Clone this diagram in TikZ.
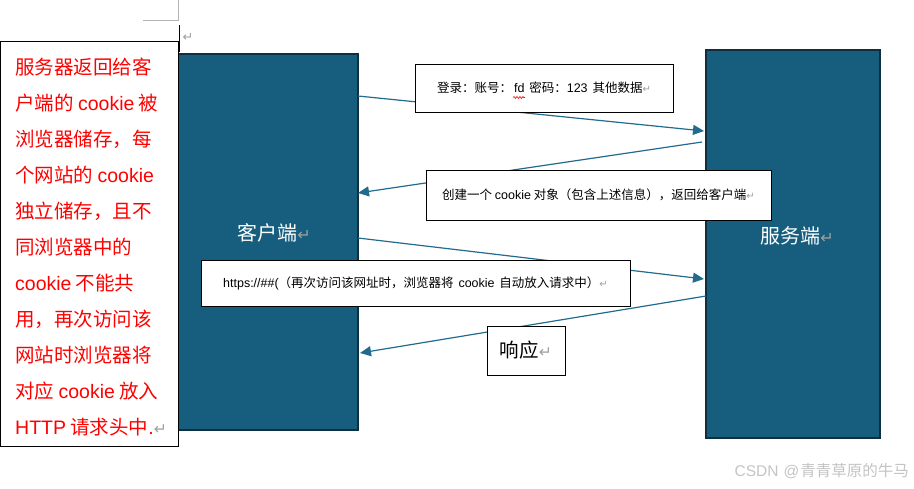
\documentclass[tikz,border=0pt]{standalone}
\usepackage{fontspec}
\setmainfont{Noto Sans CJK SC}
\newfontfamily\lat{Liberation Sans}
\newfontfamily\symf{DejaVu Sans}
\usetikzlibrary{arrows.meta,decorations.pathmorphing}
\definecolor{boxblue}{HTML}{175E7E}
\definecolor{boxedge}{HTML}{0E2F40}
\definecolor{arrowc}{HTML}{236B8E}
\definecolor{markc}{HTML}{A0A0A0}
\definecolor{wmark}{HTML}{C4C4C4}
\newcommand{\parmark}{{\symf\color{markc}\scalebox{0.8}{↵}}}
\tikzset{
  actor/.style={draw=boxedge, line width=1.5pt, fill=boxblue, inner sep=0pt},
  actorlabel/.style={text=white, font=\fontsize{20}{24}\selectfont, inner sep=0pt},
  msgbox/.style={draw=black, line width=0.9pt, fill=white, inner sep=0pt, font=\fontsize{12.5}{15}\selectfont},
  msg/.style={draw=arrowc, line width=1.2pt, -{Triangle[length=11pt,width=10pt]}},
  redtxt/.style={text=red, inner sep=0pt, font=\fontsize{19.5}{24}\selectfont},
}
\begin{document}
\begin{tikzpicture}[x=1pt,y=-1pt]
\useasboundingbox (0,0) rectangle (914,488);
\fill[white] (0,0) rectangle (914,488);

% top-left page marks
\draw[markc!80, line width=0.8pt] (143,20) -- (178,20) -- (178,0);
\draw[black, line width=1pt] (179.5,25) -- (179.5,52);
\node[inner sep=0pt, font=\fontsize{16}{18}\selectfont] (topmark) at (188,37) {\parmark};

% actors
\node[actor, minimum width=180pt, minimum height=376pt] (client) at (268,242) {};
\node[actor, minimum width=174pt, minimum height=388pt] (server) at (793,244) {};
\node[actorlabel] (clientlabel) at (274,233) {客户端\parmark};
\node[actorlabel] (serverlabel) at (797,236) {服务端\parmark};

% left note box
\node[draw=black, line width=1pt, fill=white, minimum width=178pt, minimum height=405pt, inner sep=0pt] (note) at (89.5,243.5) {};
\foreach \t [count=\i] in {服务器返回给客, 户端的 {\lat cookie} 被, 浏览器储存，每, 个网站的 {\lat cookie}, 独立储存，且不, 同浏览器中的, {\lat cookie} 不能共, 用，再次访问该, 网站时浏览器将, 对应 {\lat cookie} 放入, {\lat HTTP} 请求头中{\lat .}\parmark}
  \node[redtxt, anchor=base west] (r\i) at (15,38+36*\i) {\t};

% connector end points
\coordinate (c1) at (358,96);
\coordinate (s1) at (704,131);
\coordinate (s2) at (702,142);
\coordinate (c2) at (358,193);
\coordinate (c3) at (358,238);
\coordinate (s3) at (704,279);
\coordinate (s4) at (706,296);
\coordinate (c4) at (360,353);

\draw[msg] (c1) -- (s1);
\draw[msg] (s2) -- (c2);
\draw[msg] (c3) -- (s3);
\draw[msg] (s4) -- (c4);

% message boxes
\node[msgbox, minimum width=258pt, minimum height=48pt] (m1) at (544,88) {登录：账号：{\lat\hspace{2pt}fd\hspace{2pt}} 密码：{\lat 123\hspace{2pt}} 其他数据\parmark};
\draw[red, line width=0.6pt, decorate, decoration={snake, amplitude=1pt, segment length=3pt}] (513,97.5) -- (525,97.5);
\node[msgbox, minimum width=345pt, minimum height=50pt] (m2) at (598.5,195) {创建一个 {\lat cookie} 对象（包含上述信息），返回给客户端\parmark};
\node[msgbox, minimum width=429pt, minimum height=46pt] (m3) at (415.5,283) {{\lat https://\#\#(}（再次访问该网址时，浏览器将\hspace{2pt} {\lat cookie}\hspace{2pt} 自动放入请求中）\parmark};
\node[msgbox, minimum width=78pt, minimum height=49pt, font=\fontsize{19.5}{22}\selectfont] (m4) at (526,350.5) {响应\parmark};

% watermark
\node[text=wmark, inner sep=0pt, anchor=east, font=\fontsize{15.5}{18}\selectfont] (wm) at (909,471) {{\lat CSDN\hspace{5pt}@\hspace{1pt}}青青草原的牛马};
\end{tikzpicture}
\end{document}
